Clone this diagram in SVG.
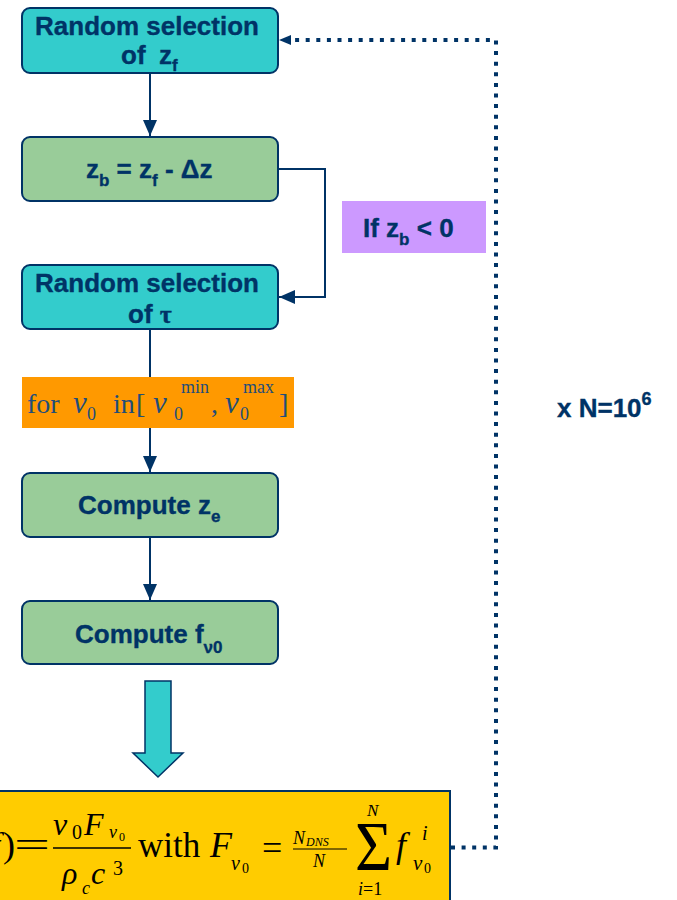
<svg xmlns="http://www.w3.org/2000/svg" width="677" height="900" viewBox="0 0 677 900">
  <style>
    .box { stroke: #003366; stroke-width: 2; }
    .teal { fill: #33CCCC; }
    .green { fill: #99CC99; }
    .lbl { font-family: "Liberation Sans", Arial, sans-serif; font-weight: bold; font-size: 26px; fill: #003366; stroke: #003366; stroke-width: 0.35; }
    .sub { font-size: 17px; }
    .math { font-family: "Liberation Serif", "Times New Roman", serif; fill: #000; }
    .it { font-style: italic; }
    .conn { fill: none; stroke: #003366; stroke-width: 2; }
    .dots { fill: none; stroke: #003366; stroke-width: 4; stroke-dasharray: 4 6.6; }
  </style>
  <defs>
    <marker id="arrow" markerUnits="userSpaceOnUse" markerWidth="16" markerHeight="14" refX="16" refY="7" orient="auto">
      <path d="M0,0 L16,7 L0,14 Z" fill="#003366"/>
    </marker>
  </defs>

  <!-- connectors -->
  <g id="connectors">
    <line class="conn" x1="150" y1="73" x2="150" y2="136" marker-end="url(#arrow)"/>
    <path class="conn" d="M278,169 H325 V297 H279" marker-end="url(#arrow)"/>
    <line class="conn" x1="150" y1="329" x2="150" y2="472" marker-end="url(#arrow)"/>
    <line class="conn" x1="150" y1="537" x2="150" y2="600" marker-end="url(#arrow)"/>
    <path class="dots" d="M451,847.5 H496 V40 H290"/>
    <path d="M279,40 L291,35 L291,45 Z" fill="#003366"/>
    <!-- block arrow into the result -->
    <polygon points="145,681 171,681 171,753 183,753 158,777 133,753 145,753" fill="#33CCCC" stroke="#003366" stroke-width="1.5"/>
  </g>

  <!-- Random selection of z_f -->
  <g id="select-zf">
    <rect class="box teal" x="22" y="8" width="256" height="65" rx="8"/>
    <text class="lbl" x="147" y="35" text-anchor="middle">Random selection</text>
    <text class="lbl" x="121" y="64">of<tspan x="159">z</tspan><tspan class="sub" dy="7">f</tspan></text>
  </g>

  <!-- z_b = z_f - Δz -->
  <g id="compute-zb">
    <rect class="box green" x="22" y="137" width="256" height="64" rx="8"/>
    <text class="lbl" x="86" y="178">z<tspan class="sub" dy="8">b</tspan><tspan dy="-8"> = z</tspan><tspan class="sub" dy="8">f</tspan><tspan dy="-8"> - Δz</tspan></text>
  </g>

  <!-- condition label -->
  <g id="cond">
    <rect x="342" y="201" width="144" height="52" fill="#CC99FF"/>
    <text class="lbl" x="363" y="237">If z<tspan class="sub" dy="8">b</tspan><tspan dy="-8"> &lt; 0</tspan></text>
  </g>

  <!-- Random selection of τ -->
  <g id="select-tau">
    <rect class="box teal" x="22" y="265" width="256" height="64" rx="8"/>
    <text class="lbl" x="147" y="292" text-anchor="middle">Random selection</text>
    <text class="lbl" x="128" y="323">of <tspan font-family="'Liberation Serif', serif">τ</tspan></text>
  </g>

  <!-- loop over ν0 -->
  <g id="loop-nu">
    <rect x="22" y="377" width="272" height="51" fill="#FF9900"/>
    <g class="math" style="fill:#1F4E79" font-size="28">
      <text x="27" y="413">for</text>
      <text class="it" x="73" y="413" font-size="31">ν</text>
      <text x="87" y="420" font-size="18">0</text>
      <text x="113" y="413">in</text>
      <text x="136" y="413">[</text>
      <text class="it" x="153" y="413" font-size="31">ν</text>
      <text x="174" y="420" font-size="18">0</text>
      <text x="181" y="393" font-size="18">min</text>
      <text x="211" y="413">,</text>
      <text class="it" x="225" y="413" font-size="31">ν</text>
      <text x="240" y="420" font-size="18">0</text>
      <text x="243" y="393" font-size="18">max</text>
      <text x="279" y="413">]</text>
    </g>
  </g>

  <!-- Compute z_e -->
  <g id="compute-ze">
    <rect class="box green" x="22" y="473" width="256" height="64" rx="8"/>
    <text class="lbl" x="78" y="514">Compute z<tspan class="sub" dy="8">e</tspan></text>
  </g>

  <!-- Compute f_ν0 -->
  <g id="compute-f">
    <rect class="box green" x="22" y="601" width="256" height="63" rx="8"/>
    <text class="lbl" x="75" y="643">Compute f<tspan class="sub" dy="10">ν0</tspan></text>
  </g>

  <!-- iteration count -->
  <g id="iterations">
    <text class="lbl" x="557" y="417" font-size="29">x N=10<tspan font-size="18" dy="-12">6</tspan></text>
  </g>

  <!-- result formula -->
  <g id="result">
    <rect x="-5" y="791" width="455" height="120" fill="#FFCC00" stroke="#003366" stroke-width="2"/>
    <g class="math" font-size="36">
      <text class="it" x="-10" y="857">f</text>
      <text x="3" y="857">)</text>
      <text x="14" y="857" textLength="36" lengthAdjust="spacingAndGlyphs">=</text>
      <!-- numerator ν0 Fν0 -->
      <text class="it" x="53" y="835" font-size="32">ν</text>
      <text x="72" y="839" font-size="20">0</text>
      <text class="it" x="84" y="835" font-size="32">F</text>
      <text class="it" x="109" y="838" font-size="18">ν</text>
      <text x="119" y="841" font-size="12">0</text>
      <line x1="53" y1="848" x2="131" y2="848" stroke="#000" stroke-width="1.5"/>
      <!-- denominator ρc c³ -->
      <text class="it" x="62" y="884" font-size="32">ρ</text>
      <text class="it" x="82" y="894" font-size="18">c</text>
      <text class="it" x="91" y="884" font-size="32">c</text>
      <text x="113" y="875" font-size="20">3</text>
      <text x="138" y="857" font-size="35">with</text>
      <text class="it" x="210" y="857">F</text>
      <text class="it" x="231" y="870" font-size="20">ν</text>
      <text x="242" y="873" font-size="14">0</text>
      <text x="262" y="860">=</text>
      <!-- N_DNS / N -->
      <text class="it" x="293" y="844" font-size="18">N</text>
      <text class="it" x="306" y="846" font-size="12">DNS</text>
      <line x1="293" y1="849" x2="347" y2="849" stroke="#000" stroke-width="1"/>
      <text class="it" x="313" y="867" font-size="18">N</text>
      <!-- sum -->
      <text x="355" y="870" font-size="70" textLength="37" lengthAdjust="spacingAndGlyphs">Σ</text>
      <text class="it" x="367" y="816" font-size="17">N</text>
      <text x="358" y="895" font-size="18"><tspan class="it">i</tspan>=1</text>
      <text class="it" x="396" y="857">f</text>
      <text class="it" x="422" y="840" font-size="20">i</text>
      <text class="it" x="413" y="870" font-size="21">ν</text>
      <text x="424" y="873" font-size="14">0</text>
    </g>
  </g>
</svg>
